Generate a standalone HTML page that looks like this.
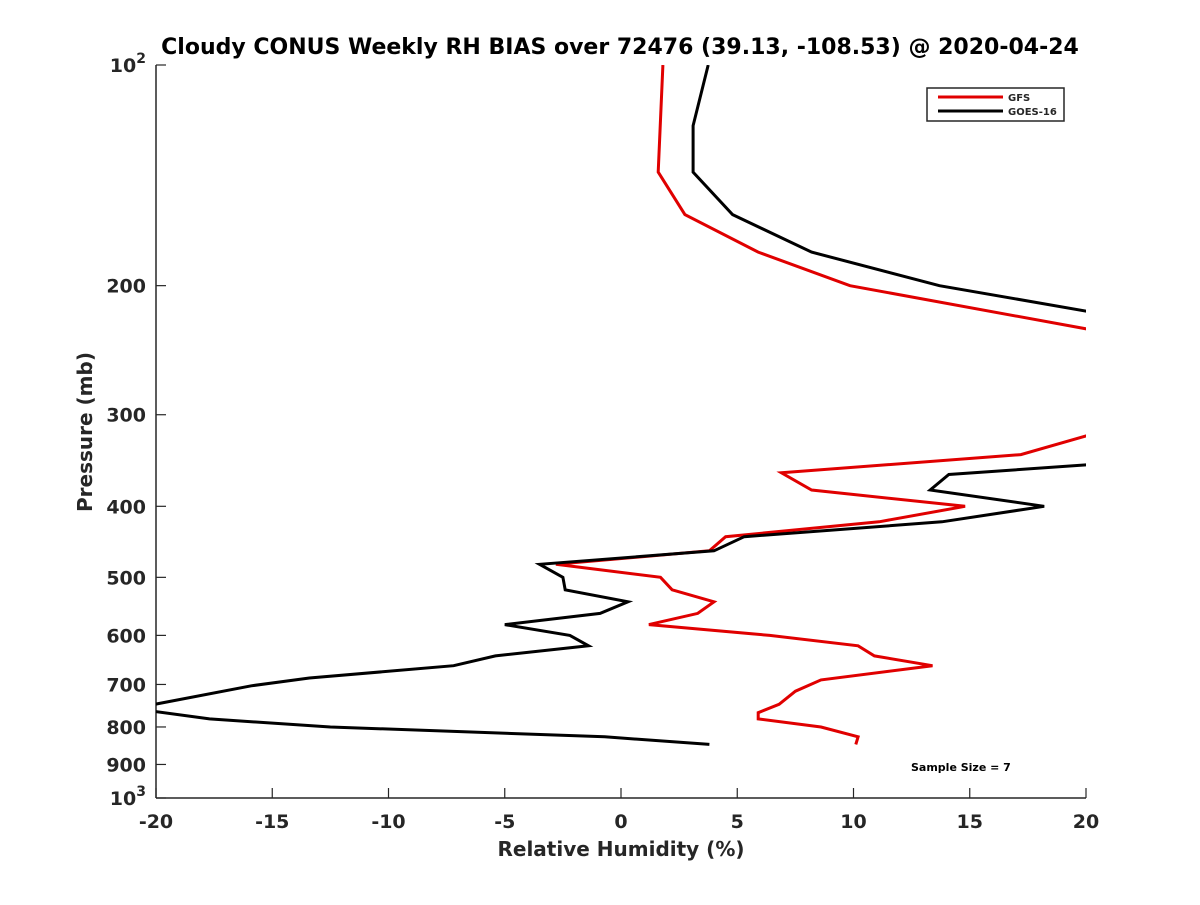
<!DOCTYPE html>
<html><head><meta charset="utf-8"><style>
body{margin:0;background:#fff;}
svg text{font-family:"DejaVu Sans","Liberation Sans",sans-serif;font-weight:bold;fill:#262626;}
</style></head><body>
<svg width="1200" height="900" xmlns="http://www.w3.org/2000/svg">
<defs><clipPath id="clip"><rect x="156" y="65" width="930" height="733"/></clipPath></defs>
<text x="620" y="54" text-anchor="middle" font-size="22" style="fill:#000">Cloudy CONUS Weekly RH BIAS over 72476 (39.13, -108.53) @ 2020-04-24</text>
<g id="axes"></g>
<g id="series" clip-path="url(#clip)"></g>
<text x="621" y="856" text-anchor="middle" font-size="20">Relative Humidity (%)</text>
<text transform="translate(92,432) rotate(-90)" text-anchor="middle" font-size="20">Pressure (mb)</text>
<g>
<rect x="927" y="88" width="137" height="33" fill="#fff" stroke="#262626" stroke-width="1.5"/>
<line x1="938" y1="97" x2="1003" y2="97" stroke="#e00000" stroke-width="3"/>
<text x="1008" y="101" font-size="10">GFS</text>
<line x1="938" y1="111" x2="1003" y2="111" stroke="#000" stroke-width="3"/>
<text x="1008" y="115" font-size="10">GOES-16</text>
</g>
<text x="911" y="771" font-size="11" style="fill:#000">Sample Size = 7</text>
</svg>
<script>
const xTicks=[-20,-15,-10,-5,0,5,10,15,20];
const yTicks=[100,200,300,400,500,600,700,800,900,1000];
const yTickLabels=["10²","200","300","400","500","600","700","800","900","10³"];
const gfsP=[100,140,160,180,200,230,320,340,360,380,400,420,440,460,480,500,520,540,560,580,600,620,640,660,690,715,745,765,780,800,825,845];
const gfsRH=[1.8,1.6,2.75,5.9,9.85,20.3,20.1,17.2,6.9,8.2,14.8,11.1,4.5,3.8,-2.8,1.7,2.2,4.0,3.3,1.2,6.4,10.2,10.9,13.4,8.6,7.5,6.8,5.9,5.9,8.6,10.2,10.1];
const goesP=[100,121,140,160,180,200,218,351,362,380,400,420,440,460,480,500,520,540,560,580,600,620,640,660,686,703,755,780,800,825,845];
const goesRH=[3.75,3.1,3.1,4.8,8.2,13.7,20.5,20.1,14.1,13.3,18.2,13.8,5.3,4.0,-3.5,-2.5,-2.4,0.3,-0.9,-5.0,-2.2,-1.4,-5.4,-7.2,-13.4,-15.9,-21,-17.7,-12.5,-0.7,3.8];
const NS="http://www.w3.org/2000/svg";
const X0=156,X1=1086,Y0=65,Y1=798;
function xs(v){return X0+(v+20)/40*(X1-X0);}
function ys(p){return Y0+(Math.log10(p)-2)*(Y1-Y0);}
function mk(tag,attrs,parent){const e=document.createElementNS(NS,tag);for(const k in attrs)e.setAttribute(k,attrs[k]);parent.appendChild(e);return e;}
const ax=document.getElementById('axes');
const sg=document.getElementById('series');
let l=mk('line',{x1:X0,y1:Y0,x2:X0,y2:Y1,stroke:'#262626','stroke-width':1.5},ax);


l=mk('line',{x1:X0,y1:Y1,x2:X1,y2:Y1,stroke:'#262626','stroke-width':1.5},ax);


xTicks.forEach(v=>{
  const t=mk('line',{x1:xs(v),y1:Y1,x2:xs(v),y2:Y1-10,stroke:'#262626','stroke-width':1.2},ax);
  
  
  const tx=mk('text',{x:xs(v),y:Y1+30,'text-anchor':'middle','font-size':19},ax);
  tx.textContent=v;
  
  
});
yTicks.forEach((p,i)=>{
  const t=mk('line',{x1:X0,y1:ys(p),x2:X0+10,y2:ys(p),stroke:'#262626','stroke-width':1.2},ax);
  
  
  const tx=mk('text',{x:X0-10,y:ys(p)+7,'text-anchor':'end','font-size':19},ax);
  const lab=yTickLabels[i];
  if(lab.startsWith('10')&&lab.length>2){tx.textContent='10';const s=mk('tspan',{dy:-9,'font-size':14},tx);s.textContent=lab==='10²'?'2':'3';}
  else tx.textContent=lab;
  
  
});
function drawLine(P,V,color,name){
  const pts=P.map((p,i)=>xs(V[i]).toFixed(1)+','+ys(p).toFixed(1)).join(' ');
  const pl=mk('polyline',{points:pts,fill:'none',stroke:color,'stroke-width':3,'stroke-linejoin':'miter'},sg);
  
  
}
drawLine(gfsP,gfsRH,'#e00000','gfs-line');
drawLine(goesP,goesRH,'#000000','goes16-line');
</script>
</body></html>
